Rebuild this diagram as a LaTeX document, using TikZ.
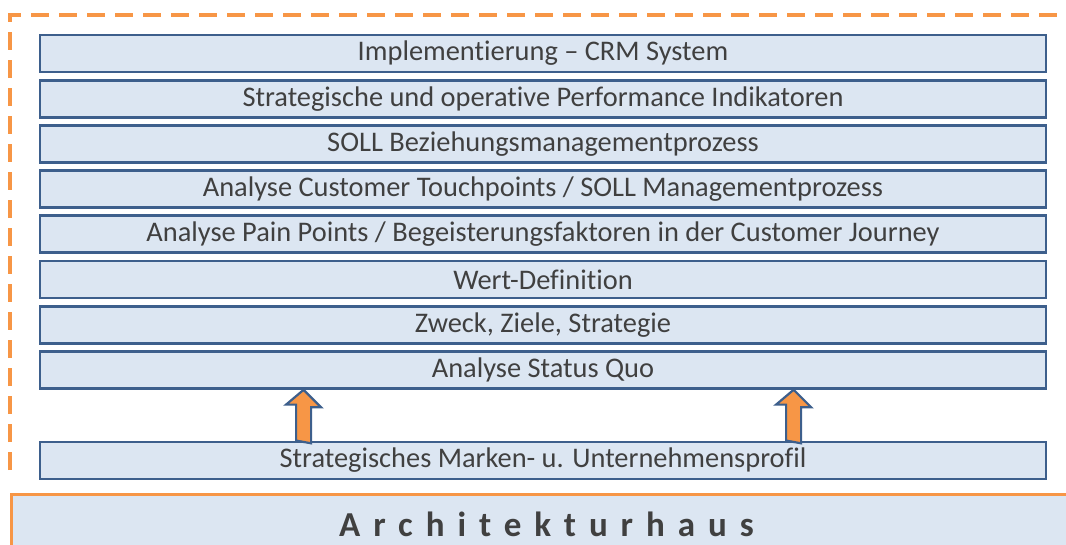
\documentclass[tikz,border=0pt]{standalone}
\usepackage{fontspec}
\setmainfont{Carlito}[Ligatures={TeX,NoCommon}]
\usetikzlibrary{positioning, calc}
\definecolor{layerfill}{HTML}{DCE6F2}
\definecolor{layerline}{HTML}{3D5F8C}
\definecolor{houseorange}{HTML}{F79646}
\definecolor{labelgray}{HTML}{404040}
\tikzset{
    x=1pt, y=1pt, % everything is measured in points
    layer/.style={draw=layerline, line width=2.8pt, fill=layerfill, minimum width=1006pt, minimum height=37pt, inner sep=0pt, text=labelgray, font=\fontsize{28.4}{30}\selectfont}, % one storey of the house
    node distance=45.2pt, % centre to centre distance of two storeys
    liftarrow/.style={draw=layerline, line width=2.2pt, fill=houseorange, line join=miter}, % the two block arrows
}

\begin{document}
\begin{tikzpicture}
    \useasboundingbox (0,0) rectangle (1066,-545);
    % dashed frame round the house
    \draw[houseorange, line width=4pt, dash pattern=on 18pt off 10pt] (10,-470) -- (10,-15) -- (1066,-15);
    \node[layer] (crm) at (543,-53.5) {Implementierung – CRM System};
    \node[layer, below of=crm] (kpi) {Strategische und operative Performance Indikatoren};
    \node[layer, below of=kpi] (soll) {SOLL Beziehungsmanagementprozess};
    \node[layer, below of=soll] (touch) {Analyse Customer Touchpoints / SOLL Managementprozess};
    \node[layer, below of=touch] (pain) {Analyse Pain Points / Begeisterungsfaktoren in der Customer Journey};
    \node[layer, below of=pain] (wert) {Wert-Definition};
    \node[layer, below of=wert] (zweck) {Zweck, Ziele, Strategie};
    \node[layer, below of=zweck] (status) {Analyse Status Quo};
    \node[layer] (base) at (543,-460.5) {Strategisches Marken- u. Unternehmensprofil};
    % foundation
    \node[anchor=north west, minimum width=1070pt, minimum height=60pt, fill=layerfill, draw=houseorange, line width=3pt, text=labelgray, font=\fontsize{35}{38}\selectfont\bfseries\addfontfeature{LetterSpace=37}] (house) at (10,-493) {Architekturhaus};
    % arrows from the base up to the first storey
    \foreach \dx in {265,755}
        \draw[liftarrow] ($(base.north west)+(\dx-7.5,0)$) -- ++(0,36) -- ++(-10,0)
            -- ($(base.north west |- status.south)+(\dx,0)$) -- ++(17.5,-17.5) -- ++(-10,0) -- ++(0,-36) -- cycle;
\end{tikzpicture}
\end{document}
